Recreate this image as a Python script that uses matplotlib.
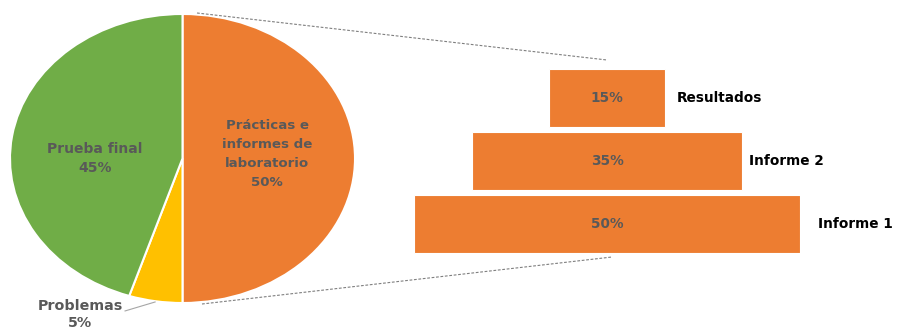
import matplotlib
matplotlib.use("Agg")
import matplotlib.pyplot as plt
from matplotlib.lines import Line2D

# ---- data ----
pie_labels = ["Prácticas e\ninformes de\nlaboratorio", "Problemas", "Prueba final"]
pie_values = [50, 5, 45]
pie_colors = ["#ED7D31", "#FFC000", "#70AD47"]

funnel_labels = ["Informe 1", "Informe 2", "Resultados"]
funnel_values = [50, 35, 15]

W, H = 897, 329
fig = plt.figure(figsize=(W / 100, H / 100), dpi=100)
plt.rcParams['font.family'] = ['DejaVu Sans']
GRAY = "#595959"

def fx(px):
    return px / W

def fy(py):
    return 1 - py / H

# ---- pie (elliptical) ----
pl, pr, pt, pb = 10, 355, 14, 303
axp = fig.add_axes([fx(pl), fy(pb), (pr - pl) / W, (pb - pt) / H])
axp.pie(pie_values, colors=pie_colors, startangle=90, counterclock=False,
        wedgeprops=dict(edgecolor="white", linewidth=1.5))
axp.set_aspect("auto")
axp.set_xlim(-1, 1)
axp.set_ylim(-1, 1)
axp.axis("off")

label_pos = [(0.49, 0.03), (-0.594, -1.08), (-0.507, 0.0)]
linesp = [1.6, 1.2, 1.4]
fsizes = [9.6, 10.3, 10.0]
for lab, val, (x, y), ls, fs in zip(pie_labels, pie_values, label_pos, linesp, fsizes):
    axp.text(x, y, f"{lab}\n{val}%", ha="center", va="center", fontsize=fs,
             fontweight="bold", color=GRAY, linespacing=ls, clip_on=False)
# leader line for Problemas
axp.plot([-0.333, -0.159], [-1.055, -0.993], color="#A6A6A6", lw=0.8, clip_on=False)

# ---- funnel ----
axb = fig.add_axes([fx(414), fy(255.5), 386 / W, 189 / H])
ypos = list(range(len(funnel_values)))
axb.barh(ypos, funnel_values, left=[-v / 2 for v in funnel_values], height=0.92,
         color="#ED7D31", edgecolor="white", linewidth=0.8)
axb.set_xlim(-25, 25)
axb.set_ylim(-0.5, 2.5)
axb.axis("off")
offsets = [18, 7, 12]
for y, v, lab, off in zip(ypos, funnel_values, funnel_labels, offsets):
    axb.text(0, y, f"{v}%", ha="center", va="center", fontsize=9.8,
             fontweight="bold", color=GRAY)
    axb.annotate(lab, (v / 2, y), xytext=(off * 0.72, 0), textcoords="offset points",
                 ha="left", va="center", fontsize=9.8, fontweight="bold",
                 color="black", annotation_clip=False)

# ---- connector dashed lines ----
for (x0, y0), (x1, y1) in [((197, 13), (607, 60)), ((202, 304), (612, 257))]:
    fig.add_artist(Line2D([fx(x0), fx(x1)], [fy(y0), fy(y1)], transform=fig.transFigure,
                          color="#7F7F7F", lw=0.8, linestyle=(0, (2.5, 1.5))))

fig.savefig("out.png", dpi=100)
